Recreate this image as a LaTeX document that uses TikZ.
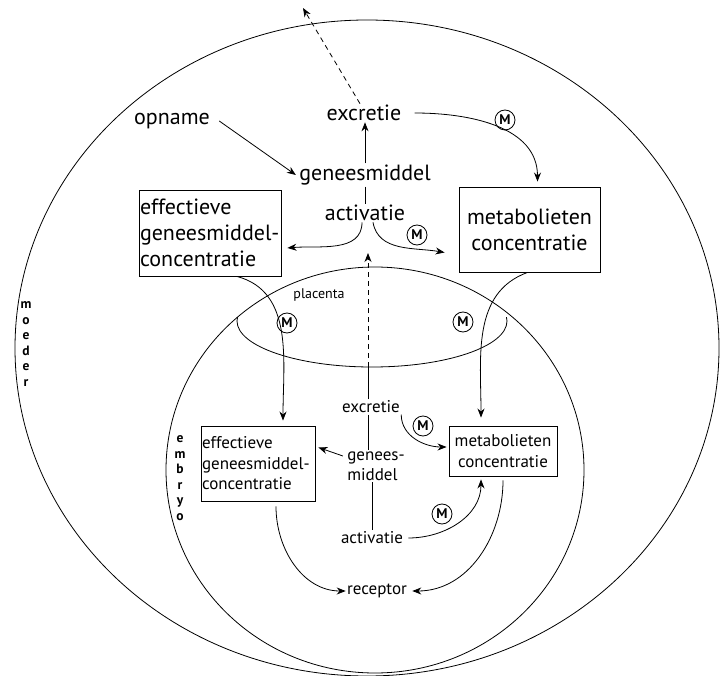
\documentclass[tikz,border=0pt]{standalone}
\usepackage{fontspec}
\setmainfont{PT Sans}
\usetikzlibrary{arrows.meta}
\begin{document}
\begin{tikzpicture}[x=1pt,y=-1pt, line width=0.8pt,
 arr/.style={-{Stealth[length=9pt,width=7pt]}},
 dsh/.style={dash pattern=on 5pt off 4pt},
 big/.style={font=\fontsize{22}{26}\selectfont, inner sep=1pt},
 small/.style={font=\fontsize{17}{20.5}\selectfont, inner sep=1pt},
 box/.style={draw, line width=0.9pt},
 mc/.style={circle, draw, line width=0.8pt, inner sep=0pt, minimum size=20pt, font=\fontsize{14}{14}\selectfont\bfseries},
 vlab/.style={font=\fontsize{13.5}{15.5}\selectfont\bfseries, align=center, inner sep=0pt}
]
\useasboundingbox (0,0) rectangle (720,676);
% outlines
\draw (367,348) ellipse [x radius=352, y radius=328];
\draw (375,470) ellipse [x radius=209, y radius=203];
\begin{scope}
\clip (0,317) rectangle (720,400);
\draw (372,321) ellipse [x radius=135, y radius=46];
\end{scope}
\coordinate (pb) at (368,367);
\coordinate (dtip) at (368,253);
\coordinate (out) at (303,8);

% mother nodes
\node[big] (opname) at (172,121) {opname};
\node[big] (exc) at (364,113) {excretie};
\node[big] (gen) at (365,175) {geneesmiddel};
\node[big] (act) at (365,213) {activatie};
\node[box, big, align=left, text width=140pt, inner xsep=1pt, minimum height=86pt] (eff) at (210,233) {effectieve\\geneesmiddel-\\concentratie};
\node[box, big, align=center, minimum width=141pt, minimum height=85pt] (met) at (529.5,229.5) {metabolieten\\concentratie};

% embryo nodes
\node[small] (exc2) at (371,407) {excretie};
\node[small, align=left] (gen2) at (376,466) {genees-\\middel};
\node[small] (act2) at (372,538) {activatie};
\node[small] (rec) at (377,591) {receptor};
\node[box, small, align=left, text width=112pt, inner xsep=1pt, minimum height=75pt] (eff2) at (258,463.5) {effectieve\\geneesmiddel-\\concentratie};
\node[box, small, align=center, minimum width=108pt, minimum height=50pt] (met2) at (503,451) {metabolieten\\concentratie};

% labels
\node[font=\fontsize{14}{14}\selectfont] (plac) at (319,295) {placenta};
\node[vlab] (moeder) at (26,344) {m\\o\\e\\d\\e\\r};
\node[vlab] (embryo) at (180,478) {e\\m\\b\\r\\y\\o};

\node[mc] (m1) at (505,120) {M};
\node[mc] (m2) at (417,235) {M};
\node[mc] (m3) at (287,323) {M};
\node[mc] (m4) at (463,322) {M};
\node[mc] (m5) at (423,426) {M};
\node[mc] (m6) at (442,514) {M};

% mother connectors
\draw[arr] ([xshift=8pt]opname.east) -- ([xshift=-2pt]gen.west);
\draw[arr] (gen.north) -- (gen.north |- exc.south);
\draw[arr, dsh] ([xshift=-4pt]exc.north) -- (out);
\draw (gen.south) -- (gen.south |- act.north);
\draw[arr] ([xshift=-3pt]act.south) to[out=-90, in=5] ([xshift=6pt,yshift=-15pt]eff.east);
\draw[arr] ([xshift=8pt]act.south) to[out=-80, in=170] ([xshift=-14pt,yshift=-23pt]met.west);
\draw[arr] ([xshift=12pt]exc.east) to[out=0, in=90] ([xshift=8pt,yshift=5pt]met.north);
\draw[arr] ([xshift=27pt]eff.south) to[out=-15, in=90] ([xshift=25pt,yshift=5pt]eff2.north);
\draw[arr] ([xshift=-2pt]met.south) to[out=200, in=90] ([xshift=-22pt,yshift=8pt]met2.north);
\draw (exc2.north -| pb) -- (pb);
\draw[arr, dsh] (pb) -- (dtip);

% embryo connectors
\draw (exc2.south -| pb) -- (gen2.north -| pb);
\draw (gen2.south -| act2.north) -- (act2.north);
\draw[arr] ([xshift=-3pt,yshift=10pt]gen2.west) -- ([xshift=3pt,yshift=16pt]eff2.east);
\draw[arr] (exc2.south east) to[out=-90, in=180] ([xshift=-2pt,yshift=4pt]met2.west);
\draw[arr] ([xshift=4pt]act2.east) to[out=0, in=-90] ([xshift=-22pt,yshift=-3pt]met2.south);
\draw[arr] ([xshift=18pt,yshift=-5pt]eff2.south) to[out=-90, in=180] (rec.west);
\draw[arr] ([yshift=-4pt]met2.south) to[out=-90, in=0] ([xshift=4pt]rec.east);
\end{tikzpicture}
\end{document}
